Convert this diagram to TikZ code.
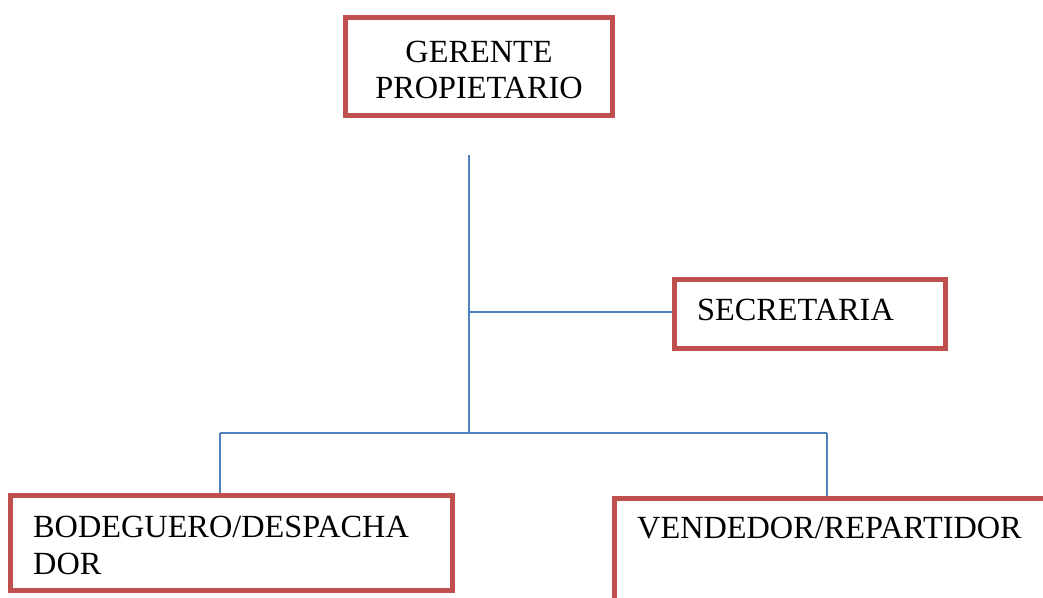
\documentclass[tikz,border=0pt]{standalone}
\usepackage{fontspec}
\setmainfont{Liberation Serif}
\definecolor{boxred}{HTML}{C0504D}
\definecolor{linkblue}{HTML}{4F81BD}
\begin{document}
\begin{tikzpicture}[x=1pt,y=1pt,
  box/.style={draw=boxred, line width=5pt, inner sep=0pt, fill=white},
  conn/.style={draw=linkblue, line width=1.7pt},
  lbl/.style={font=\fontsize{32.3}{36}\selectfont, inner sep=0pt, text=black}]
\useasboundingbox (0,0) rectangle (1043,597);
\clip (0,0) rectangle (1043,597);
% boxes
\node[box, minimum width=267pt, minimum height=98pt] (ger) at (479,530.5) {};
\node[box, minimum width=271pt, minimum height=69pt] (sec) at (810,283) {};
\node[box, minimum width=442pt, minimum height=95pt] (bod) at (231.5,54) {};
\node[box, minimum width=448pt, minimum height=120pt] (ven) at (838.5,38.5) {};
% labels
\node[lbl, align=center] (gertxt) at (479,527) {GERENTE\\PROPIETARIO};
\node[lbl, anchor=base west] (sectxt) at (697,276) {SECRETARIA};
\node[lbl, anchor=base west] (bodtxt1) at (33,60) {BODEGUERO/DESPACHA};
\node[lbl, anchor=base west] (bodtxt2) at (33,23) {DOR};
\node[lbl, anchor=base west] (ventxt) at (637,59) {VENDEDOR/REPARTIDOR};
% connectors
\coordinate (top) at (469,442);
\coordinate (bus) at (469,164);
\coordinate (j1) at (469,285);
\coordinate (bl) at (220,164);
\coordinate (br) at (827,164);
\draw[conn] (top) -- (bus);
\draw[conn] (j1) -- (j1 -| sec.west);
\draw[conn] (bl) -- (br);
\draw[conn] (bl) -- (bl |- bod.north);
\draw[conn] (br) -- (br |- ven.north);
\end{tikzpicture}
\end{document}
